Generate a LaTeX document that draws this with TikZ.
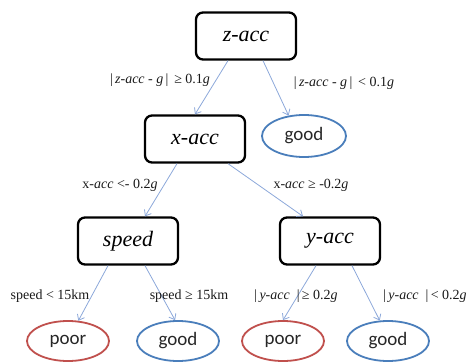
\documentclass[tikz,border=0pt]{standalone}
\usepackage{fontspec}
\setmainfont{Liberation Serif}
\newfontfamily\leaffont{Carlito}
\usetikzlibrary{arrows.meta,shapes.geometric,calc}
\definecolor{arrowblue}{RGB}{140,168,218}
\definecolor{leafblue}{RGB}{74,126,187}
\definecolor{leafred}{RGB}{192,80,77}
\tikzset{
  testbox/.style={draw=black, line width=2.3pt, rounded corners=7pt, minimum width=100pt, minimum height=47pt, inner sep=0pt, font=\fontsize{22}{24}\selectfont\itshape},
  leafnode/.style={ellipse, line width=1.8pt, minimum width=82pt, minimum height=40pt, inner sep=0pt, font=\leaffont\fontsize{19}{21}\selectfont, text=black!85},
  goodleaf/.style={leafnode, draw=leafblue},
  poorleaf/.style={leafnode, draw=leafred},
  branch/.style={draw=arrowblue, line width=0.8pt, -{Straight Barb[length=5pt,width=8pt]}},
  cond/.style={font=\fontsize{14}{16}\selectfont, inner sep=0pt, text=black!90}
}
\begin{document}
\begin{tikzpicture}[x=1pt,y=-1pt]
\useasboundingbox (0,0) rectangle (474,362);
% nodes
\node[testbox] (z) at (246,36) {z-acc};
\node[testbox] (x) at (195,139) {x-acc};
\node[goodleaf, minimum width=84pt, minimum height=42pt] (g1) at (304,136) {good};
\node[testbox] (s) at (128,241) {speed};
\node[testbox] (y) at (330,241) {y-acc};
\node[poorleaf] (p1) at (68,341) {poor};
\node[goodleaf] (g2) at (178,341) {good};
\node[poorleaf] (p2) at (283,341) {poor};
\node[goodleaf] (g3) at (388,341) {good};
% connectors
\draw[branch] ($(z.south)+(-18,0)$) -- (x.north);
\draw[branch] ($(z.south)+(17,0)$) -- (g1.127);
\draw[branch] ($(x.south)+(-18,0)$) -- ($(s.north)+(17,0)$);
\draw[branch] ($(x.south)+(33,0)$) -- ($(y.north)+(-27,0)$);
\draw[branch] ($(s.south)+(-20,0)$) -- (p1.63);
\draw[branch] ($(s.south)+(17,0)$) -- (g2.98);
\draw[branch] ($(y.south)+(-14,0)$) -- (p2.north);
\draw[branch] ($(y.south)+(22,0)$) -- (g3.112);
% condition labels
\node[cond] (c1) at (160,80) {|\,\textit{z-acc} - \textit{g}\,|\, ≥ 0.1\textit{g}};
\node[cond] (c2) at (344,83) {|\,\textit{z-acc} - \textit{g}\,|\, < 0.1\textit{g}};
\node[cond] (c3) at (120,185) {x-\textit{acc} <- 0.2\textit{g}};
\node[cond] (c4) at (311,185) {x-\textit{acc} ≥ -0.2\textit{g}};
\node[cond] (c5) at (50,296) {speed < 15km};
\node[cond] (c6) at (189,296) {speed ≥ 15km};
\node[cond] (c7) at (296,296) {|\,\textit{y-acc}\ \ |\,≥ 0.2\textit{g}};
\node[cond] (c8) at (425,296) {|\,\textit{y-acc}\ \ |\,< 0.2\textit{g}};
\end{tikzpicture}
\end{document}
